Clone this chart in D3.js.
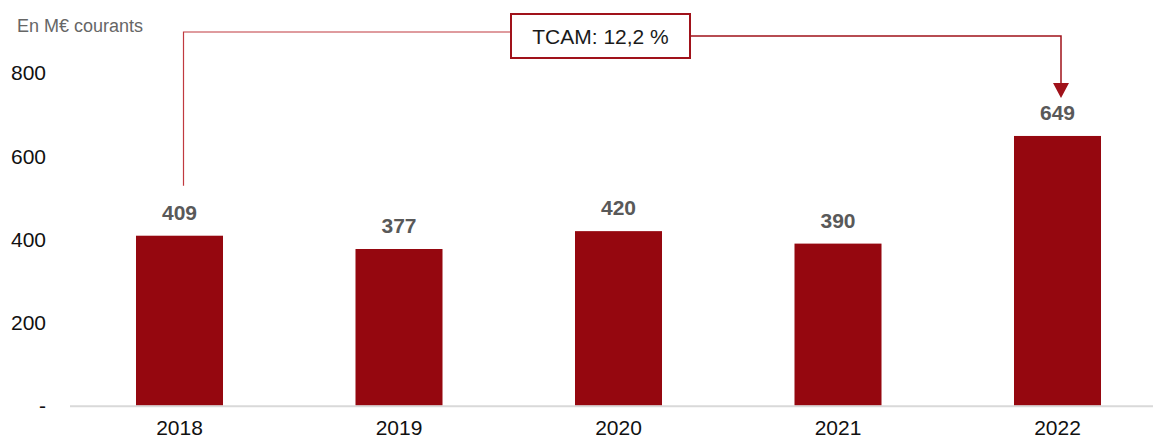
<!DOCTYPE html>
<html>
<head>
<meta charset="utf-8">
<script src="https://cdn.jsdelivr.net/npm/d3@7"></script>
<style>
  body { margin: 0; background: #fff; }
  svg { display: block; font-family: Arial, "Liberation Sans", sans-serif; }
</style>
</head>
<body>
<svg id="chart" width="1153" height="439"></svg>
<script>
var years = ['2018', '2019', '2020', '2021', '2022'];
var values = [409, 377, 420, 390, 649];
var y_ticks = [0, 200, 400, 600, 800];
var unit_label = 'En M€ courants';
var cagr_label = 'TCAM: 12,2 %';

var bar_color = '#95070f';
var arrow_color = '#a0121a';

var svg = d3.select('#chart');

var x = d3.scaleBand()
    .domain(years)
    .range([69.75, 1167.25])
    .paddingInner(0.6036)
    .paddingOuter(0.3018);

var y = d3.scaleLinear()
    .domain([0, 800])
    .range([405.7, 73.2]);

// unit label
svg.append('text')
    .attr('x', 17)
    .attr('y', 32)
    .attr('font-size', '18px')
    .attr('fill', '#666')
    .text(unit_label);

// y axis labels (no line)
var yAxis = d3.axisLeft(y)
    .tickValues(y_ticks)
    .tickSize(0)
    .tickPadding(0)
    .tickFormat(function(d){ return d === 0 ? '-' : d; });
var gy = svg.append('g')
    .attr('transform', 'translate(46,0)')
    .call(yAxis);
gy.select('.domain').remove();
gy.selectAll('text')
    .attr('font-size', '21px')
    .attr('font-family', 'Arial, "Liberation Sans", sans-serif')
    .attr('fill', '#111');

// bars
svg.append('g')
    .selectAll('rect')
    .data(values)
    .enter()
    .append('rect')
    .attr('x', function(d, i){ return x(years[i]); })
    .attr('y', function(d){ return y(d); })
    .attr('width', x.bandwidth())
    .attr('height', function(d){ return y(0) - y(d); })
    .attr('fill', bar_color);

// x axis baseline
svg.append('line')
    .attr('x1', 70).attr('x2', 1153)
    .attr('y1', y(0) + 0.5).attr('y2', y(0) + 0.5)
    .attr('stroke', '#d9d9d9')
    .attr('stroke-width', 2);

// x axis labels
var xAxis = d3.axisBottom(x).tickSize(0).tickPadding(0);
var gx = svg.append('g')
    .attr('transform', 'translate(0,' + (y(0) + 14.5) + ')')
    .call(xAxis);
gx.select('.domain').remove();
gx.selectAll('text')
    .attr('font-size', '21px')
    .attr('font-family', 'Arial, "Liberation Sans", sans-serif')
    .attr('fill', '#111');

// value labels
svg.append('g')
    .selectAll('text')
    .data(values)
    .enter()
    .append('text')
    .attr('x', function(d, i){ return x(years[i]) + x.bandwidth() / 2; })
    .attr('y', function(d){ return y(d) - 16; })
    .attr('text-anchor', 'middle')
    .attr('font-size', '21px')
    .attr('font-weight', 'bold')
    .attr('fill', '#595959')
    .text(function(d){ return d; });

// CAGR annotation
var first = x(years[0]) + x.bandwidth() / 2 + 4;
var last = x(years[years.length - 1]) + x.bandwidth() / 2 + 3.5;
var box = {x: 511, y: 14, w: 179, h: 44};

svg.append('path')
    .attr('d', 'M' + first + ',' + (y(values[0]) - 50) + ' V32 H' + box.x)
    .attr('fill', 'none')
    .attr('stroke', '#c0393f')
    .attr('stroke-width', 1.2);

svg.append('path')
    .attr('d', 'M' + (box.x + box.w) + ',36 H' + last + ' V' + (y(values[4]) - 52))
    .attr('fill', 'none')
    .attr('stroke', arrow_color)
    .attr('stroke-width', 1.5);

var tip = y(values[4]) - 38;
svg.append('path')
    .attr('d', 'M' + (last - 8) + ',' + (tip - 15) + ' L' + (last + 8) + ',' + (tip - 15) + ' L' + last + ',' + tip + ' Z')
    .attr('fill', arrow_color);

svg.append('rect')
    .attr('x', box.x).attr('y', box.y)
    .attr('width', box.w).attr('height', box.h)
    .attr('fill', '#fff')
    .attr('stroke', arrow_color)
    .attr('stroke-width', 2);

svg.append('text')
    .attr('x', box.x + box.w / 2)
    .attr('y', box.y + box.h / 2 + 7.5)
    .attr('text-anchor', 'middle')
    .attr('font-size', '21px')
    .attr('fill', '#1a1a1a')
    .text(cagr_label);
</script>
</body>
</html>
